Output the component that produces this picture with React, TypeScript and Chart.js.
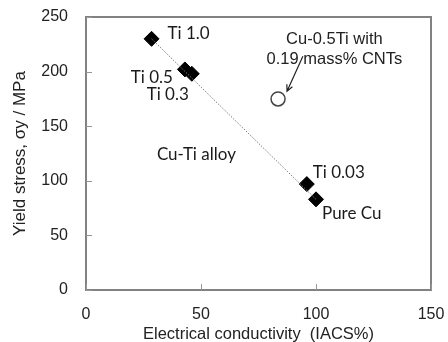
import React, { useEffect, useRef } from "react";
import { Chart, registerables } from "chart.js";

Chart.register(...registerables);

// ---- data ----
const alloyConductivity = [28.5, 43, 46, 96, 100];
const alloyYield = [230, 202, 198, 97, 83];
const alloyLabels = ["Ti 1.0", "Ti 0.5", "Ti 0.3", "Ti 0.03", "Pure Cu"];
const cntConductivity = [83.5];
const cntYield = [175];
const trendConductivity = [28.5, 100];
const trendYield = [230, 83];
const xTickValues = [0, 50, 100, 150];
const yTickValues = [0, 50, 100, 150, 200, 250];
const groupLabel = "Cu-Ti alloy";
const groupLabelAt = [48, 124];
const cntNote = ["Cu-0.5Ti with", "0.19 mass% CNTs"];
const cntNoteAt = [108, 229];
const arrowFrom = [94.3, 214];
const arrowTo = [87.4, 182];

// label styling offsets (pixels, relative to each point)
const labelOffsets: [number, number, CanvasTextAlign][] = [
  [16, -5, "left"],
  [-12, 8, "right"],
  [-3, 21, "right"],
  [6, -12, "left"],
  [6, 14, "left"],
];

const ARIAL = "'Liberation Sans', Arial, sans-serif";
const CALIBRI = "Lato, 'Open Sans', sans-serif";
const FRAME = "rgb(130,130,130)";

const annotationPlugin = {
  id: "annotations",
  afterDraw(chart: any) {
    const { ctx, scales } = chart;
    const xs = scales.x;
    const ys = scales.y;
    const L = Math.round(xs.left), R = Math.round(xs.right), T = Math.round(ys.top), B = Math.round(ys.bottom);
    ctx.save();
    ctx.globalAlpha = 1;
    ctx.globalCompositeOperation = "source-over";
    // frame (filled strips)
    ctx.fillStyle = FRAME;
    ctx.fillRect(L - 1, T - 1, R - L + 2, 2);
    ctx.fillRect(L - 1, B - 1, R - L + 2, 2);
    ctx.fillRect(L - 1, T - 1, 2, B - T + 2);
    ctx.fillRect(R - 1, T - 1, 2, B - T + 2);
    // inward ticks
    ctx.fillStyle = "rgb(150,150,150)";
    yTickValues.forEach((v) => {
      const py = Math.round(ys.getPixelForValue(v));
      ctx.fillRect(L, py, 6, 1);
    });
    xTickValues.forEach((v) => {
      const px = Math.round(xs.getPixelForValue(v));
      ctx.fillRect(px, B - 6, 1, 6);
    });
    // point labels
    ctx.fillStyle = "#1a1a1a";
    ctx.font = `17px ${CALIBRI}`;
    ctx.textBaseline = "middle";
    alloyLabels.forEach((t, i) => {
      const px = xs.getPixelForValue(alloyConductivity[i]);
      const py = ys.getPixelForValue(alloyYield[i]);
      const [dx, dy, al] = labelOffsets[i];
      ctx.textAlign = al;
      ctx.fillText(t, px + dx, py + dy);
    });
    ctx.textAlign = "center";
    ctx.fillText(groupLabel, xs.getPixelForValue(groupLabelAt[0]), ys.getPixelForValue(groupLabelAt[1]));
    // CNT note
    ctx.font = `16.5px ${ARIAL}`;
    ctx.fillStyle = "#222";
    const nx = xs.getPixelForValue(cntNoteAt[0]);
    const ny = ys.getPixelForValue(cntNoteAt[1]);
    cntNote.forEach((t, i) => ctx.fillText(t, nx, ny + i * 20));
    // arrow
    const ax0 = xs.getPixelForValue(arrowFrom[0]);
    const ay0 = ys.getPixelForValue(arrowFrom[1]);
    const ax1 = xs.getPixelForValue(arrowTo[0]);
    const ay1 = ys.getPixelForValue(arrowTo[1]);
    ctx.setLineDash([]);
    ctx.strokeStyle = "#222";
    ctx.lineWidth = 1.2;
    ctx.beginPath();
    ctx.moveTo(ax0, ay0);
    ctx.lineTo(ax1, ay1);
    const ang = Math.atan2(ay1 - ay0, ax1 - ax0);
    const hl = 7;
    ctx.moveTo(ax1 - hl * Math.cos(ang - 0.45), ay1 - hl * Math.sin(ang - 0.45));
    ctx.lineTo(ax1, ay1);
    ctx.lineTo(ax1 - hl * Math.cos(ang + 0.45), ay1 - hl * Math.sin(ang + 0.45));
    ctx.stroke();
    ctx.restore();
  },
};

export default function App() {
  const ref = useRef<HTMLCanvasElement | null>(null);
  useEffect(() => {
    if (!ref.current) return;
    const chart = new Chart(ref.current, {
      type: "scatter",
      data: {
        datasets: [
          {
            data: trendConductivity.map((x, i) => ({ x, y: trendYield[i] })),
            showLine: true,
            borderColor: "#7a7a7a",
            borderWidth: 1,
            borderDash: [1.5, 1.5],
            pointRadius: 0,
          },
          {
            data: alloyConductivity.map((x, i) => ({ x, y: alloyYield[i] })),
            pointStyle: "rectRot",
            pointRadius: 7.5,
            backgroundColor: "#000",
            borderColor: "#000",
            borderWidth: 1,
          },
          {
            data: cntConductivity.map((x, i) => ({ x, y: cntYield[i] })),
            pointStyle: "circle",
            pointRadius: 7,
            backgroundColor: "#fff",
            borderColor: "#444",
            borderWidth: 1.5,
          },
        ],
      },
      options: {
        animation: false,
        responsive: false,
        maintainAspectRatio: false,
        layout: { padding: { top: 17, right: 17, left: 0, bottom: 0 } },
        plugins: { legend: { display: false }, tooltip: { enabled: false } },
        scales: {
          x: {
            type: "linear",
            min: 0,
            max: 150,
            afterBuildTicks: (s: any) => {
              s.ticks = xTickValues.map((value) => ({ value }));
            },
            afterFit: (s: any) => {
              s.height = 52;
              s.paddingLeft = 0;
              s.paddingRight = 0;
            },
            grid: { display: false, drawTicks: false },
            border: { display: false },
            ticks: { padding: 15, color: "#222", font: { family: ARIAL, size: 16 } },
            title: {
              display: true,
              text: "Electrical conductivity  (IACS%)",
              color: "#222",
              font: { family: ARIAL, size: 16.5 },
              padding: { top: 0, bottom: -2 },
            },
          },
          y: {
            type: "linear",
            min: 0,
            max: 250,
            afterBuildTicks: (s: any) => {
              s.ticks = yTickValues.map((value) => ({ value }));
            },
            afterFit: (s: any) => {
              s.width = 86;
              s.paddingTop = 0;
              s.paddingBottom = 0;
            },
            grid: { display: false, drawTicks: false },
            border: { display: false },
            ticks: { padding: 18, color: "#222", font: { family: ARIAL, size: 16 } },
            title: {
              display: true,
              text: "Yield stress, σy / MPa",
              color: "#222",
              font: { family: ARIAL, size: 17 },
              padding: { top: 10, bottom: 0 },
            },
          },
        },
      },
      plugins: [annotationPlugin],
    } as any);
    return () => chart.destroy();
  }, []);
  return (
    <div style={{ position: "fixed", left: 0, top: 0, width: 448, height: 342, background: "#fff" }}>
      <canvas ref={ref} width={448} height={342} style={{ display: "block" }} />
    </div>
  );
}
